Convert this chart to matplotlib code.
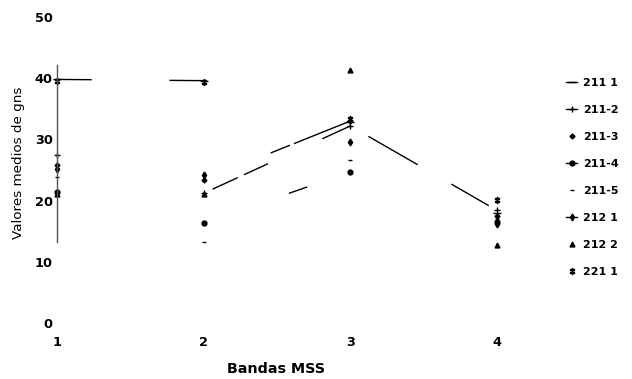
import numpy as np
import matplotlib.pyplot as plt
from matplotlib.lines import Line2D

plt.rcParams['font.family'] = ['DejaVu Sans']

bandas = [1, 2, 3, 4]
series = ['211 1', '211-2', '211-3', '211-4', '211-5', '212 1', '212 2', '221 1']

# mean grey values per MSS band
v_211_1 = [39.8, 39.6, 32.8, 18.0]
v_211_2 = [27.5, 21.2, 32.2, 18.4]
v_211_3 = [25.8, 23.4, 33.0, 17.5]
v_211_4 = [21.4, 16.3, 24.7, 16.5]
v_211_5 = [23.9, 13.2, 26.6, 17.0]
v_212_1 = [25.2, 24.2, 29.6, 16.2]
v_212_2 = [21.0, 21.0, 41.3, 12.8]
v_221_1 = [39.6, 39.4, 33.3, 20.1]

valores = [v_211_1, v_211_2, v_211_3, v_211_4, v_211_5, v_212_1, v_212_2, v_221_1]

marcadores = ['_', '+', 'D', 'o', '_', 'd', '^', '$\u2021$']
tamanos = [6, 5, 2.5, 3.5, 3.5, 3.5, 3.5, 5]

# dashed connecting lines: (series index, from band index) -> dash pattern
tramos = {
    (0, 0): (0, (25, 56)),
    (1, 1): (110, (20, 5, 19, 43, 23, 7)),
    (2, 1): (62, (15, 3, 44, 52)),
    (3, 1): (47, (14, 98)),
    (1, 2): (108, (41, 28, 31, 23)),
}

fig = plt.figure(figsize=(6.32, 3.79), dpi=100)
ax = fig.add_axes([57 / 632, 1 - 323 / 379, 440 / 632, 306 / 379])

for (i, j), dash in tramos.items():
    ax.plot(bandas[j:j + 2], valores[i][j:j + 2], color='black', lw=1.0,
            linestyle=dash, clip_on=False)

for i, nombre in enumerate(series):
    ax.plot(bandas, valores[i], linestyle='none', marker=marcadores[i],
            markersize=tamanos[i], color='black', mec='black', mew=1.0,
            clip_on=False, label=nombre)

ax.set_xlim(1, 4)
ax.set_ylim(0, 50)
ax.set_xticks(bandas)
ax.set_yticks([0, 10, 20, 30, 40, 50])
ax.tick_params(length=0, labelsize=9.3)
ax.tick_params(axis='x', pad=9)
ax.tick_params(axis='y', pad=3)
for t in ax.get_xticklabels() + ax.get_yticklabels():
    t.set_fontweight('bold')

for s in ['top', 'right', 'bottom']:
    ax.spines[s].set_visible(False)
ax.spines['left'].set_bounds(13.2, 42.2)
ax.spines['left'].set_color('#555555')
ax.spines['left'].set_linewidth(1.0)

ax.set_ylabel('Valores medios de gns', fontsize=9.7)
ax.set_xlabel('Bandas MSS', fontsize=10.3, fontweight='bold')
ax.yaxis.set_label_coords(-0.073, 0.523)
ax.xaxis.set_label_coords(0.498, -0.128)

handles = []
for i, nombre in enumerate(series):
    ls = '-' if i in (0, 1, 3, 5) else 'none'
    handles.append(Line2D([0], [0], color='black', lw=1.0, linestyle=ls,
                          marker=marcadores[i], markersize=tamanos[i],
                          mec='black', mew=1.0))
fig.legend(handles, series, loc='upper left', bbox_to_anchor=(0.889, 0.805),
           frameon=False, prop={'size': 8, 'weight': 'bold'},
           handlelength=1.0, handletextpad=0.5,
           labelspacing=1.52, borderaxespad=0)

fig.savefig('out.png', dpi=100)
